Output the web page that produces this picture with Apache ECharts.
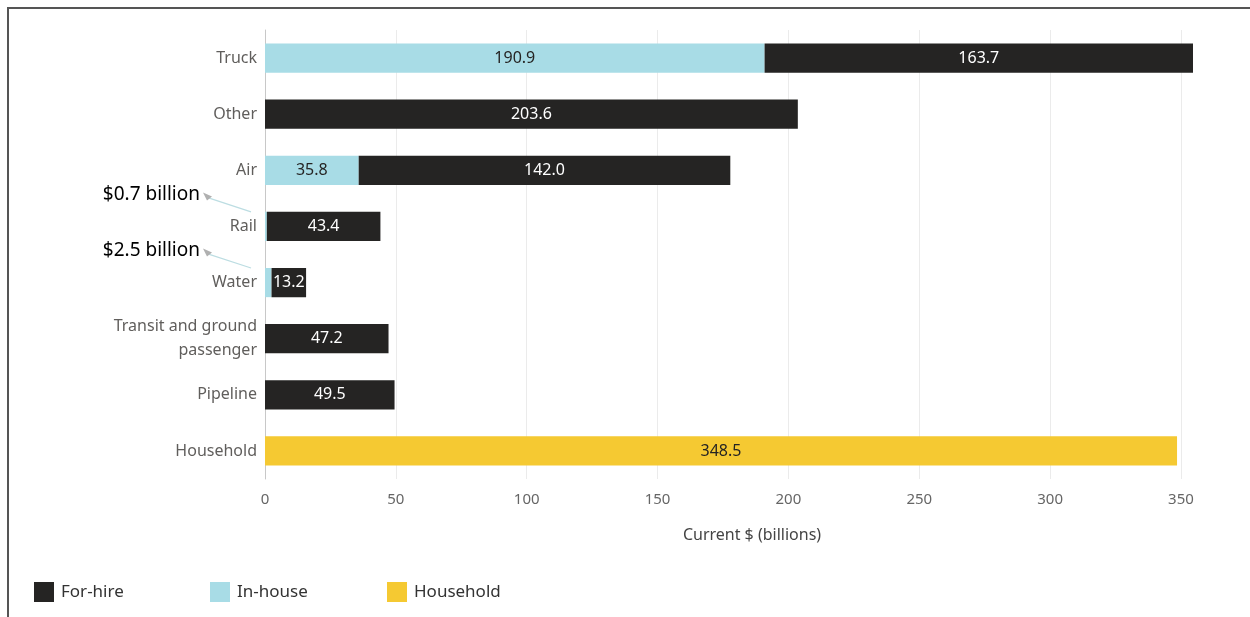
<!DOCTYPE html>
<html>
<head>
<meta charset="utf-8">
<script src="https://cdn.jsdelivr.net/npm/echarts@6/dist/echarts.min.js"></script>
<style>
  html, body { margin: 0; padding: 0; background: #ffffff; }
  #chart { width: 1250px; height: 617px; }
</style>
</head>
<body>
<div id="chart"></div>
<script>
// Freight and passenger transportation output by mode, current $ (billions)
const categories = ['Truck', 'Other', 'Air', 'Rail', 'Water', 'Transit and ground\npassenger', 'Pipeline', 'Household'];
const inHouse   = [190.9, null, 35.8, 0.7, 2.5, null, null, null];
const forHire   = [163.7, 203.6, 142.0, 43.4, 13.2, 47.2, 49.5, null];
const household = [null, null, null, null, null, null, null, 348.5];
const xTicks = [0, 50, 100, 150, 200, 250, 300, 350];
const legendNames = ['For-hire', 'In-house', 'Household'];
// Small in-house values called out beside the chart
const callouts = [
  { category: 'Rail', value: 0.7, text: '$0.7 billion' },
  { category: 'Water', value: 2.5, text: '$2.5 billion' }
];

const FONT = '"Noto Sans", "Open Sans", sans-serif';
const axisMax = Math.max(...categories.map((_, i) => (inHouse[i] || 0) + (forHire[i] || 0) + (household[i] || 0)));

const chart = echarts.init(document.getElementById('chart'), null, { renderer: 'canvas' });

function barLabel(color, minValue) {
  return {
    show: true,
    position: 'inside',
    color: color,
    fontFamily: FONT,
    fontSize: 16,
    formatter: p => (p.value == null || p.value < minValue) ? '' : Number(p.value).toFixed(1)
  };
}

// One legend slot per series, evenly spaced along the bottom
const legendSlotLefts = [29, 205, 382];
const legends = legendNames.map((name, i) => ({
  left: legendSlotLefts[i],
  top: 577,
  icon: 'rect',
  itemWidth: 20,
  itemHeight: 20,
  itemGap: 0,
  data: [name],
  textStyle: { color: '#333333', fontSize: 17, fontFamily: FONT, padding: [0, 0, 0, 2] }
}));

const option = {
  backgroundColor: '#ffffff',
  animation: false,
  textStyle: { fontFamily: FONT },
  grid: { left: 265, right: 57, top: 30, bottom: 138, containLabel: false },
  legend: legends,
  xAxis: {
    type: 'value',
    min: 0,
    max: axisMax,
    interval: 50,
    name: 'Current $ (billions)',
    nameLocation: 'middle',
    nameGap: 48,
    nameTextStyle: { color: '#444444', fontSize: 16, fontFamily: FONT, padding: [0, 0, 0, 46] },
    axisLine: { show: false },
    axisTick: { show: false },
    axisLabel: {
      color: '#666666', fontSize: 15, fontFamily: FONT, margin: 13,
      showMaxLabel: false,
      formatter: v => xTicks.includes(v) ? String(v) : ''
    },
    splitLine: { show: true, showMaxLine: false, lineStyle: { color: '#ebebeb', width: 1 } }
  },
  yAxis: {
    type: 'category',
    inverse: true,
    data: categories,
    axisLine: { show: true, lineStyle: { color: '#c8c8c8', width: 1 } },
    axisTick: { show: false },
    axisLabel: { color: '#605e5c', fontSize: 16, fontFamily: FONT, margin: 8, lineHeight: 24, align: 'right' }
  },
  series: [
    {
      name: 'In-house', type: 'bar', stack: 'total', data: inHouse,
      barWidth: '52%',
      itemStyle: { color: '#a8dce6' },
      label: barLabel('#252423', 10)
    },
    {
      name: 'For-hire', type: 'bar', stack: 'total', data: forHire,
      itemStyle: { color: '#252423' },
      label: barLabel('#ffffff', 0)
    },
    {
      name: 'Household', type: 'bar', stack: 'total', data: household,
      itemStyle: { color: '#f5c932' },
      label: barLabel('#252423', 0)
    }
  ]
};

chart.setOption(option);

// Outer frame and callout annotations, positioned from the axis scales
function drawExtras() {
  const elements = [
    {
      type: 'rect',
      shape: { x: 8, y: 8, width: 1300, height: 700 },
      style: { fill: 'none', stroke: '#555555', lineWidth: 2 },
      silent: true, z: 100
    }
  ];
  const bandPx = chart.convertToPixel({ yAxisIndex: 0 }, categories[1]) - chart.convertToPixel({ yAxisIndex: 0 }, categories[0]);
  callouts.forEach(c => {
    const pt = chart.convertToPixel({ xAxisIndex: 0, yAxisIndex: 0 }, [0, c.category]);
    const x0 = pt[0], y0 = pt[1];
    const barTop = y0 - bandPx * 0.26;
    const sx = x0 - 58, sy = y0 - 29;
    const ex = x0 - 14, ey = barTop;
    elements.push({
      type: 'line',
      shape: { x1: sx, y1: sy, x2: ex, y2: ey },
      style: { stroke: '#bcdde2', lineWidth: 1.2 },
      silent: true, z: 50
    });
    elements.push({
      type: 'polygon',
      shape: { points: [[sx - 4, sy - 5], [sx + 5, sy - 1], [sx, sy + 3]] },
      style: { fill: '#b0b0b0' },
      silent: true, z: 51
    });
    elements.push({
      type: 'text',
      style: {
        text: c.text, x: sx - 7, y: sy - 3,
        align: 'right', verticalAlign: 'middle',
        fill: '#000000', font: '19px ' + FONT
      },
      silent: true, z: 52
    });
  });
  chart.setOption({ graphic: { elements: elements } });
}
drawExtras();
</script>
</body>
</html>
